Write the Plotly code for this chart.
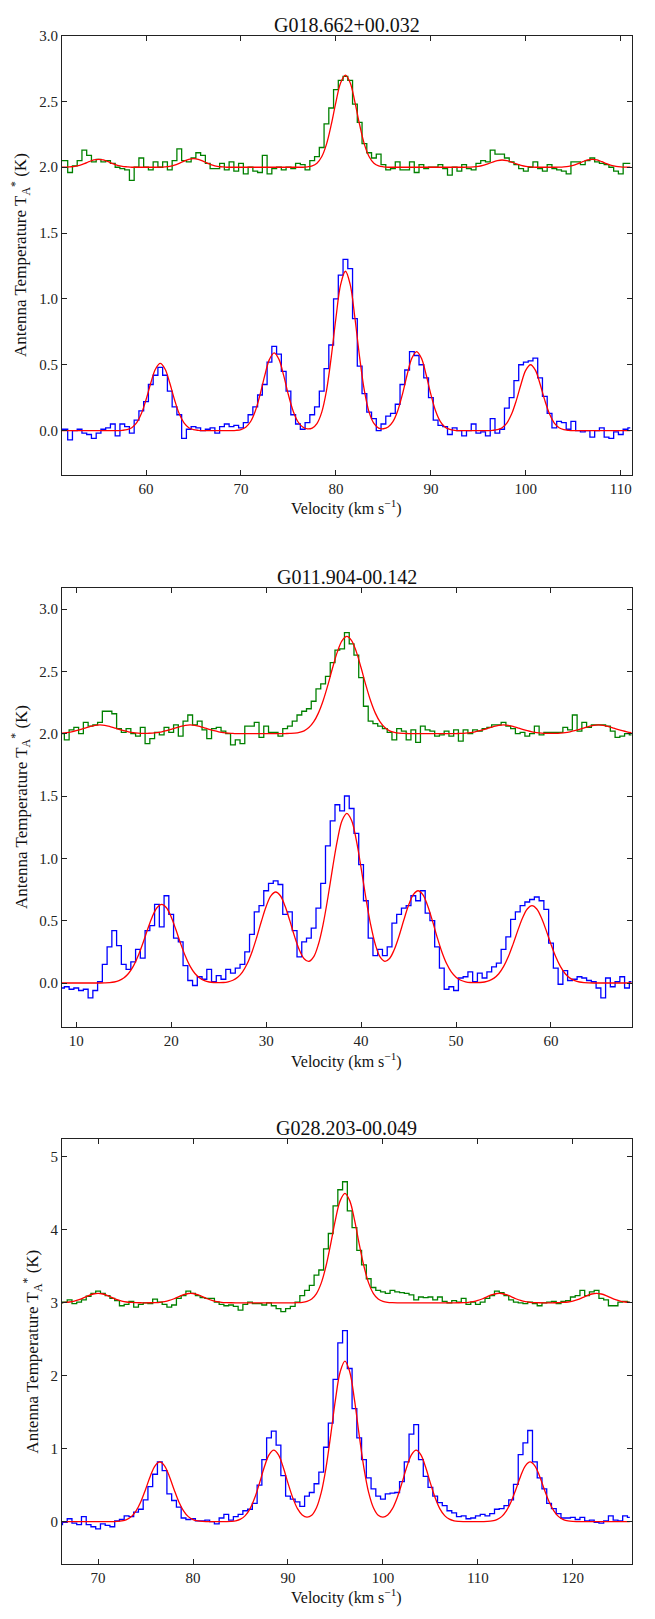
import numpy as np
import plotly.graph_objects as go

# channel width of the spectra (km/s) and first channel of each source
chan = 0.5
v0_1 = 51.0
v0_2 = 8.5
v0_3 = 66.0

sources = ["G018.662+00.032", "G011.904-00.142", "G028.203-00.049"]

# --- G018.662+00.032 ---
blue1 = [0.01, 0.01, -0.07, 0.00, 0.01, -0.02, -0.03, -0.06, -0.02, 0.01,
         0.02, 0.05, -0.04, 0.05, 0.03, -0.02, 0.08, 0.15, 0.22, 0.35,
         0.42, 0.48, 0.42, 0.30, 0.18, 0.12, -0.06, 0.01, 0.03, 0.02,
         0.00, 0.01, 0.02, -0.02, 0.03, 0.05, 0.03, 0.04, 0.02, 0.06,
         0.12, 0.18, 0.27, 0.35, 0.52, 0.64, 0.58, 0.45, 0.30, 0.12,
         0.05, 0.01, 0.06, 0.12, 0.18, 0.30, 0.47, 0.65, 1.00, 1.18,
         1.30, 1.23, 0.85, 0.49, 0.28, 0.14, 0.09, 0.00, 0.05, 0.11,
         0.13, 0.20, 0.35, 0.46, 0.60, 0.57, 0.50, 0.40, 0.25, 0.08,
         0.04, 0.03, -0.03, 0.02, 0.00, -0.04, 0.00, 0.05, -0.02, -0.01,
         -0.04, 0.09, -0.02, 0.01, 0.17, 0.25, 0.38, 0.50, 0.52, 0.53,
         0.55, 0.40, 0.26, 0.13, 0.02, 0.07, 0.06, 0.01, 0.07, 0.00,
         -0.01, 0.00, -0.05, 0.00, 0.02, -0.05, -0.06, -0.01, -0.03, 0.01,
         0.02]
green1 = [2.05, 2.05, 1.96, 2.01, 2.05, 2.13, 2.09, 2.04, 2.06, 2.04,
          2.05, 2.03, 2.00, 1.99, 1.98, 1.90, 2.00, 2.07, 2.00, 1.98,
          2.04, 2.00, 2.04, 1.98, 2.05, 2.14, 2.05, 2.04, 2.07, 2.11,
          2.09, 2.03, 1.99, 1.99, 2.03, 1.98, 2.04, 1.97, 2.03, 1.95,
          2.00, 1.97, 1.96, 2.09, 1.95, 1.99, 2.00, 1.98, 2.00, 1.99,
          2.03, 2.02, 1.98, 2.05, 2.08, 2.15, 2.33, 2.45, 2.59, 2.66,
          2.69, 2.66, 2.48, 2.34, 2.18, 2.11, 2.07, 2.10, 2.02, 1.98,
          1.99, 2.04, 1.98, 1.98, 2.04, 1.96, 2.02, 1.99, 2.00, 2.00,
          2.02, 1.99, 1.94, 2.00, 1.97, 2.02, 1.99, 1.98, 2.03, 2.05,
          2.04, 2.13, 2.10, 2.10, 2.07, 2.04, 2.02, 1.99, 1.97, 2.00,
          2.04, 1.99, 1.97, 2.02, 1.99, 1.98, 1.97, 1.95, 2.04, 2.04,
          2.02, 2.05, 2.07, 2.04, 2.03, 2.02, 2.00, 1.97, 1.95, 2.03,
          2.03]
fit1_blue = [0, 0, 0, 0, 0, 0, 0, 0, 0, 0,
             0, 0, 0, 0.002, 0.007, 0.022, 0.058, 0.127, 0.234, 0.361,
             0.468, 0.51, 0.468, 0.361, 0.234, 0.127, 0.058, 0.022, 0.007, 0.002,
             0, 0, 0, 0, 0, 0, 0, 0.002, 0.008, 0.026,
             0.067, 0.147, 0.27, 0.417, 0.541, 0.59, 0.541, 0.417, 0.27, 0.147,
             0.067, 0.027, 0.013, 0.019, 0.053, 0.138, 0.301, 0.554, 0.855, 1.11,
             1.21, 1.11, 0.855, 0.554, 0.301, 0.138, 0.054, 0.019, 0.014, 0.027,
             0.068, 0.149, 0.275, 0.424, 0.55, 0.60, 0.55, 0.424, 0.275, 0.149,
             0.068, 0.026, 0.009, 0.002, 0, 0, 0, 0, 0, 0,
             0, 0.002, 0.007, 0.022, 0.057, 0.125, 0.229, 0.354, 0.459, 0.50,
             0.459, 0.354, 0.229, 0.125, 0.057, 0.022, 0.007, 0.002, 0, 0,
             0, 0, 0, 0, 0, 0, 0, 0, 0, 0,
             0]
fit1_green = [2.0, 2.0, 2.003, 2.007, 2.015, 2.027, 2.042, 2.055, 2.06, 2.055,
              2.042, 2.027, 2.015, 2.007, 2.003, 2.0, 2.0, 2.0, 2.0, 2.0,
              2.0, 2.001, 2.003, 2.007, 2.016, 2.03, 2.046, 2.06, 2.065, 2.06,
              2.046, 2.03, 2.016, 2.007, 2.003, 2.0, 2.0, 2.0, 2.0, 2.0,
              2.0, 2.0, 2.0, 2.0, 2.0, 2.0, 2.0, 2.0, 2.0, 2.0,
              2.0, 2.0, 2.003, 2.01, 2.031, 2.08, 2.174, 2.321, 2.495, 2.642,
              2.70, 2.642, 2.495, 2.321, 2.174, 2.08, 2.031, 2.01, 2.003, 2.0,
              2.0, 2.0, 2.0, 2.0, 2.0, 2.0, 2.0, 2.0, 2.0, 2.0,
              2.0, 2.0, 2.0, 2.0, 2.0, 2.0, 2.001, 2.002, 2.006, 2.014,
              2.025, 2.039, 2.05, 2.055, 2.05, 2.039, 2.025, 2.014, 2.006, 2.002,
              2.0, 2.0, 2.0, 2.0, 2.0, 2.001, 2.003, 2.007, 2.015, 2.027,
              2.042, 2.055, 2.06, 2.055, 2.042, 2.027, 2.015, 2.007, 2.003, 2.001,
              2.0]

# --- G011.904-00.142 ---
blue2 = [-0.04, -0.03, -0.05, -0.04, -0.06, -0.05, -0.12, -0.06, 0.01, 0.15,
         0.29, 0.42, 0.30, 0.15, 0.11, 0.17, 0.27, 0.20, 0.42, 0.46,
         0.63, 0.45, 0.70, 0.55, 0.36, 0.33, 0.14, 0.02, -0.02, 0.05,
         0.03, 0.11, 0.01, 0.06, 0.03, 0.11, 0.08, 0.12, 0.15, 0.25,
         0.39, 0.57, 0.62, 0.74, 0.80, 0.82, 0.79, 0.55, 0.57, 0.42,
         0.21, 0.33, 0.36, 0.44, 0.60, 0.80, 1.10, 1.30, 1.43, 1.38,
         1.50, 1.40, 1.20, 0.95, 0.66, 0.36, 0.22, 0.27, 0.22, 0.29,
         0.48, 0.55, 0.60, 0.62, 0.70, 0.66, 0.74, 0.56, 0.50, 0.29,
         0.12, -0.05, -0.03, -0.06, 0.04, 0.05, 0.09, 0.01, 0.08, 0.04,
         0.09, 0.13, 0.16, 0.27, 0.37, 0.51, 0.57, 0.62, 0.65, 0.67,
         0.69, 0.66, 0.59, 0.32, 0.12, -0.01, 0.10, 0.02, 0.03, 0.05,
         0.04, 0.02, 0.01, -0.04, -0.12, 0.04, -0.03, 0.01, 0.05, -0.04,
         0.01]
green2 = [2.00, 1.95, 2.03, 2.05, 2.00, 2.09, 2.06, 2.07, 2.09, 2.18,
          2.18, 2.16, 2.04, 2.01, 2.04, 2.00, 1.98, 2.05, 1.92, 1.96,
          2.01, 1.99, 2.05, 2.01, 2.07, 1.98, 2.10, 2.15, 2.07, 2.10,
          2.03, 1.96, 2.04, 2.05, 2.02, 2.00, 1.91, 1.95, 1.92, 2.06,
          2.06, 2.09, 1.97, 2.06, 2.01, 2.01, 1.98, 2.04, 2.06, 2.10,
          2.15, 2.18, 2.20, 2.26, 2.36, 2.40, 2.46, 2.57, 2.67, 2.68,
          2.81, 2.72, 2.63, 2.45, 2.22, 2.10, 2.08, 2.06, 2.04, 2.01,
          1.95, 2.04, 2.02, 1.95, 2.03, 1.93, 2.06, 2.03, 2.02, 1.98,
          1.99, 2.02, 1.98, 2.03, 1.94, 2.03, 2.00, 2.03, 2.02, 2.04,
          2.05, 2.07, 2.07, 2.09, 2.06, 2.04, 2.00, 2.01, 1.98, 2.00,
          2.06, 1.99, 2.01, 2.01, 2.01, 2.01, 2.05, 2.03, 2.15, 2.02,
          2.09, 2.05, 2.07, 2.07, 2.07, 2.06, 2.02, 1.97, 1.98, 2.00,
          1.99]
fit2_blue = [0, 0, 0, 0, 0, 0, 0, 0, 0, 0.001,
             0.003, 0.008, 0.019, 0.040, 0.076, 0.133, 0.214, 0.315, 0.427, 0.530,
             0.604, 0.63, 0.604, 0.530, 0.427, 0.315, 0.214, 0.133, 0.076, 0.040,
             0.019, 0.008, 0.004, 0.003, 0.004, 0.010, 0.022, 0.046, 0.088, 0.154,
             0.247, 0.365, 0.495, 0.614, 0.699, 0.73, 0.70, 0.615, 0.498, 0.372,
             0.265, 0.195, 0.173, 0.209, 0.309, 0.471, 0.684, 0.924, 1.144, 1.303,
             1.36, 1.303, 1.144, 0.924, 0.684, 0.471, 0.309, 0.209, 0.174, 0.197,
             0.269, 0.377, 0.505, 0.623, 0.709, 0.74, 0.709, 0.622, 0.502, 0.37,
             0.251, 0.156, 0.089, 0.046, 0.022, 0.010, 0.004, 0.003, 0.004, 0.008,
             0.019, 0.039, 0.074, 0.131, 0.21, 0.31, 0.42, 0.521, 0.594, 0.62,
             0.594, 0.521, 0.42, 0.31, 0.21, 0.131, 0.074, 0.039, 0.019, 0.008,
             0.003, 0.001, 0, 0, 0, 0, 0, 0, 0, 0,
             0]
fit2_green = [2.004, 2.008, 2.015, 2.024, 2.035, 2.047, 2.059, 2.067, 2.07, 2.067,
              2.059, 2.047, 2.035, 2.024, 2.015, 2.008, 2.004, 2.002, 2.003, 2.004,
              2.008, 2.015, 2.024, 2.035, 2.047, 2.059, 2.067, 2.07, 2.067, 2.059,
              2.047, 2.035, 2.024, 2.015, 2.008, 2.004, 2.002, 2.0, 2.0, 2.0,
              2.0, 2.0, 2.0, 2.0, 2.0, 2.0, 2.0, 2.001, 2.002, 2.004,
              2.010, 2.023, 2.049, 2.094, 2.165, 2.264, 2.39, 2.529, 2.656, 2.747,
              2.78, 2.747, 2.656, 2.529, 2.39, 2.264, 2.165, 2.094, 2.049, 2.023,
              2.010, 2.004, 2.002, 2.001, 2.0, 2.0, 2.0, 2.0, 2.0, 2.0,
              2.0, 2.0, 2.0, 2.001, 2.002, 2.004, 2.008, 2.015, 2.024, 2.035,
              2.047, 2.059, 2.067, 2.07, 2.067, 2.059, 2.047, 2.035, 2.024, 2.015,
              2.008, 2.004, 2.002, 2.002, 2.002, 2.004, 2.008, 2.015, 2.024, 2.035,
              2.047, 2.059, 2.067, 2.07, 2.067, 2.059, 2.047, 2.035, 2.024, 2.015,
              2.008]

# --- G028.203-00.049 ---
blue3 = [-0.04, -0.01, 0.04, -0.02, -0.04, 0.07, -0.04, -0.07, -0.10, -0.03,
         -0.05, -0.07, 0.01, 0.03, 0.08, 0.07, 0.13, 0.17, 0.30, 0.48,
         0.65, 0.82, 0.70, 0.38, 0.29, 0.20, 0.05, 0.03, 0.04, 0.01,
         0.01, 0.02, 0.00, -0.03, 0.05, 0.10, 0.02, 0.07, 0.10, 0.15,
         0.17, 0.25, 0.50, 0.85, 1.15, 1.24, 1.05, 0.63, 0.35, 0.31,
         0.27, 0.21, 0.35, 0.40, 0.52, 0.68, 1.02, 1.35, 1.95, 2.45,
         2.62, 2.10, 1.55, 1.15, 0.85, 0.60, 0.45, 0.35, 0.31, 0.38,
         0.39, 0.40, 0.55, 0.82, 1.20, 1.33, 0.85, 0.62, 0.47, 0.35,
         0.26, 0.22, 0.15, 0.12, 0.07, 0.08, 0.04, 0.05, 0.08, 0.10,
         0.08, 0.11, 0.17, 0.18, 0.22, 0.30, 0.51, 0.92, 1.08, 1.25,
         0.82, 0.60, 0.45, 0.25, 0.18, 0.11, 0.05, 0.05, 0.06, 0.03,
         0.06, 0.01, 0.02, -0.01, -0.02, 0.01, 0.08, 0.02, 0.01, 0.08,
         0.06]
green3 = [3.00, 3.01, 3.04, 2.99, 3.01, 3.04, 3.09, 3.13, 3.16, 3.13,
          3.10, 3.06, 3.03, 2.96, 2.98, 3.02, 2.94, 2.98, 3.00, 2.99,
          3.05, 3.01, 2.98, 2.94, 2.97, 3.06, 3.10, 3.16, 3.13, 3.10,
          3.07, 3.06, 3.06, 3.01, 2.98, 2.96, 2.97, 2.95, 2.90, 2.98,
          3.01, 2.99, 2.99, 2.97, 3.00, 2.96, 2.92, 2.88, 2.92, 2.95,
          3.01, 3.10, 3.17, 3.24, 3.38, 3.45, 3.74, 3.95, 4.33, 4.55,
          4.66, 4.26, 4.03, 3.72, 3.52, 3.33, 3.21, 3.17, 3.15, 3.13,
          3.17, 3.15, 3.14, 3.13, 3.11, 3.04, 3.08, 3.07, 3.08, 3.04,
          3.08, 3.02, 3.00, 3.03, 3.01, 3.06, 2.98, 3.01, 2.98, 3.01,
          3.06, 3.10, 3.16, 3.14, 3.10, 3.04, 3.01, 3.00, 2.99, 3.01,
          2.99, 2.96, 3.00, 3.01, 3.02, 2.99, 3.02, 3.03, 3.08, 3.10,
          3.17, 3.10, 3.15, 3.17, 3.06, 3.04, 2.96, 2.96, 3.01, 3.02,
          3.01]
fit3_blue = [0, 0, 0, 0, 0, 0, 0, 0, 0, 0,
             0, 0.001, 0.003, 0.010, 0.028, 0.069, 0.148, 0.274, 0.442, 0.623,
             0.766, 0.82, 0.766, 0.623, 0.442, 0.274, 0.148, 0.069, 0.028, 0.010,
             0.003, 0.001, 0, 0, 0, 0.001, 0.004, 0.012, 0.034, 0.083,
             0.176, 0.327, 0.528, 0.745, 0.915, 0.98, 0.915, 0.745, 0.528, 0.328,
             0.178, 0.092, 0.061, 0.088, 0.190, 0.397, 0.735, 1.186, 1.672, 2.055,
             2.2, 2.055, 1.672, 1.186, 0.735, 0.397, 0.190, 0.088, 0.061, 0.092,
             0.178, 0.328, 0.528, 0.745, 0.915, 0.98, 0.915, 0.745, 0.528, 0.327,
             0.176, 0.083, 0.034, 0.012, 0.004, 0.001, 0, 0, 0, 0.001,
             0.003, 0.010, 0.028, 0.069, 0.148, 0.274, 0.442, 0.623, 0.766, 0.82,
             0.766, 0.623, 0.442, 0.274, 0.148, 0.069, 0.028, 0.010, 0.003, 0.001,
             0, 0, 0, 0, 0, 0, 0, 0, 0, 0,
             0]
fit3_green = [3.002, 3.005, 3.011, 3.023, 3.043, 3.070, 3.099, 3.121, 3.13, 3.121,
              3.099, 3.070, 3.043, 3.023, 3.011, 3.005, 3.002, 3.001, 3.000, 3.001,
              3.003, 3.007, 3.016, 3.032, 3.056, 3.085, 3.111, 3.128, 3.128, 3.111,
              3.085, 3.056, 3.032, 3.016, 3.007, 3.003, 3.001, 3.0, 3.0, 3.0,
              3.0, 3.0, 3.0, 3.0, 3.0, 3.0, 3.0, 3.0, 3.0, 3.0,
              3.002, 3.006, 3.019, 3.052, 3.127, 3.270, 3.501, 3.809, 4.14, 4.401,
              4.50, 4.401, 4.14, 3.809, 3.501, 3.270, 3.127, 3.052, 3.019, 3.006,
              3.002, 3.0, 3.0, 3.0, 3.0, 3.0, 3.0, 3.0, 3.0, 3.0,
              3.0, 3.0, 3.0, 3.0, 3.001, 3.003, 3.007, 3.016, 3.032, 3.056,
              3.085, 3.111, 3.128, 3.128, 3.111, 3.085, 3.056, 3.032, 3.016, 3.007,
              3.003, 3.001, 3.000, 3.000, 3.001, 3.002, 3.005, 3.011, 3.023, 3.043,
              3.070, 3.099, 3.121, 3.13, 3.121, 3.099, 3.070, 3.043, 3.023, 3.011,
              3.005]

# axis limits and ticks per panel
x_ranges = [[51.15, 111.15], [8.5, 68.5], [66.2, 126.2]]
y_ranges = [[-0.335, 3.0], [-0.35, 3.17], [-0.58, 5.25]]
x_ticks = [[60, 70, 80, 90, 100, 110], [10, 20, 30, 40, 50, 60], [70, 80, 90, 100, 110, 120]]
y_ticks = [[0.0, 0.5, 1.0, 1.5, 2.0, 2.5, 3.0], [0.0, 0.5, 1.0, 1.5, 2.0, 2.5, 3.0], [0, 1, 2, 3, 4, 5]]
y_fmt = [".1f", ".1f", "d"]

W, H = 655, 1619
# panel boxes in pixels from top: (top, bottom)
boxes = [(27.7, 469.0), (582.7, 1023.7), (1136.3, 1563.7)]
x_left, x_right = 62.0, 631.7
title_y = [17, 572, 1126]
xlabel_y = [502, 1058, 1596]
ylabel_x = [20, 20.7, 32.3]

serif = "Liberation Serif, DejaVu Serif, serif"
ink = "#222222"

panels = [
    (v0_1, blue1, green1, fit1_blue, fit1_green),
    (v0_2, blue2, green2, fit2_blue, fit2_green),
    (v0_3, blue3, green3, fit3_blue, fit3_green),
]

fig = go.Figure()
annotations = []
for i, (v0, blue, green, fb, fg) in enumerate(panels):
    n = i + 1
    xa = "x" if n == 1 else "x%d" % n
    ya = "y" if n == 1 else "y%d" % n
    vel = v0 + chan * np.arange(len(blue))

    # observed spectra drawn as steps, fits as smooth curves
    fig.add_trace(go.Scatter(x=vel, y=blue, mode="lines", line_shape="hvh",
                             line=dict(color="#0000ff", width=1.3),
                             xaxis=xa, yaxis=ya, showlegend=False))
    fig.add_trace(go.Scatter(x=vel, y=green, mode="lines", line_shape="hvh",
                             line=dict(color="#008000", width=1.3),
                             xaxis=xa, yaxis=ya, showlegend=False))
    fig.add_trace(go.Scatter(x=vel, y=fb, mode="lines", line_shape="spline",
                             line=dict(color="#ff0000", width=1.3, smoothing=1.0),
                             xaxis=xa, yaxis=ya, showlegend=False))
    fig.add_trace(go.Scatter(x=vel, y=fg, mode="lines", line_shape="spline",
                             line=dict(color="#ff0000", width=1.3, smoothing=1.0),
                             xaxis=xa, yaxis=ya, showlegend=False))

    top, bot = boxes[i]
    axis_common = dict(showline=True, linecolor=ink, linewidth=1.2, mirror="allticks",
                       ticks="inside", ticklen=5, tickwidth=1, tickcolor=ink,
                       showgrid=False, zeroline=False,
                       tickfont=dict(family=serif, size=15, color=ink))
    fig.update_layout({
        ("xaxis" if n == 1 else "xaxis%d" % n): dict(
            domain=[x_left / W, x_right / W], anchor=ya, range=x_ranges[i],
            tickvals=x_ticks[i], **axis_common),
        ("yaxis" if n == 1 else "yaxis%d" % n): dict(
            domain=[1 - bot / H, 1 - top / H], anchor=xa, range=y_ranges[i],
            tickvals=y_ticks[i], tickformat=y_fmt[i], **axis_common),
    })

    annotations.append(dict(text=sources[i], x=(x_left + x_right) / 2 / W, y=1 - title_y[i] / H,
                            xref="paper", yref="paper", showarrow=False,
                            xanchor="center", yanchor="middle",
                            font=dict(family=serif, size=20, color="#111111")))
    annotations.append(dict(text="Velocity (km s<sup>\u22121</sup>)",
                            x=(x_left + x_right) / 2 / W, y=1 - xlabel_y[i] / H,
                            xref="paper", yref="paper", showarrow=False,
                            xanchor="center", yanchor="middle",
                            font=dict(family=serif, size=16, color="#111111")))
    annotations.append(dict(text="Antenna Temperature T<sub>A</sub><sup>*</sup> (K)",
                            x=ylabel_x[i] / W, y=1 - (top + bot) / 2 / H,
                            xref="paper", yref="paper", showarrow=False, textangle=-90,
                            xanchor="center", yanchor="middle",
                            font=dict(family=serif, size=17, color="#111111")))

fig.update_layout(
    width=W, height=H,
    margin=dict(l=0, r=0, t=0, b=0),
    paper_bgcolor="white",
    plot_bgcolor="white",
    annotations=annotations,
)

# drop the browser's default page margin so the figure sits at the window origin
fig.write_html("out.html", config={"displayModeBar": False},
               post_script="document.body.style.margin='0px';")
